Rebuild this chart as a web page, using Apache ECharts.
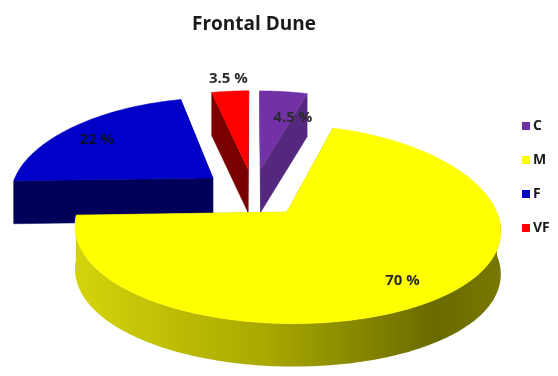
<!DOCTYPE html>
<html>
<head>
<meta charset="utf-8">
<script src="https://cdn.jsdelivr.net/npm/echarts@6/dist/echarts.min.js"></script>
<style>
html,body{margin:0;padding:0;background:#fff;}
#main{width:558px;height:376px;}
</style>
</head>
<body>
<div id="main"></div>
<script>
// ---- data ----
const categories = ['C', 'M', 'F', 'VF'];
const values = [4.5, 70, 22, 3.5];
const labelTexts = ['4.5 %', '70 %', '22 %', '3.5 %'];
const titleText = 'Frontal Dune';

// ---- styles / geometry ----
const topColors  = ['#7232a6', '#ffff00', '#0000c8', '#ff0000'];
const wallColors = ['#55287f', '#b5b500', '#00005a', '#7a0000'];
const legendColors = ['#7030a0', '#ffff00', '#0000cc', '#ff0000'];
const labelColors = ['#2a2a2a', '#2a2a2a', '#0c0c30', '#2a2a2a'];
const labelRadius = [0.674, 0.78, 0.82, 1.25];
const labelShiftX = [16, 0, 0, 2];
const labelShiftY = [3, 3, 4, 5];
const CX = 253.5, CY = 192.5, RX = 203, RY = 93, PX = 0.16, PY = 0.12, DEPTH = 43, EXPLODE = 0.26;

const total = values.reduce((a, b) => a + b, 0);
const starts = [];
{ let acc = 0; values.forEach(v => { starts.push(acc / total * 360); acc += v; }); }

function rad(d) { return d * Math.PI / 180; }
function project(X, Z) {
  return [CX + RX * X / (1 + PX * Z), CY - RY * Z / (1 + PY * Z)];
}

function makeRender(idx) {
  return function (params, api) {
    const v = api.value(0);
    const a1 = starts[idx];
    const a2 = a1 + v / total * 360;
    const am = (a1 + a2) / 2;
    const ex = EXPLODE * Math.sin(rad(am));
    const ez = EXPLODE * Math.cos(rad(am));
    const apex = project(ex, ez);
    function pt(deg, r) {
      r = r == null ? 1 : r;
      return project(ex + r * Math.sin(rad(deg)), ez + r * Math.cos(rad(deg)));
    }
    function arc(d1, d2) {
      const pts = [];
      const n = Math.max(2, Math.ceil(d2 - d1));
      for (let i = 0; i <= n; i++) pts.push(pt(d1 + (d2 - d1) * i / n));
      return pts;
    }
    const children = [];
    const back = [], front = [];
    [[a1, Math.sin(rad(a1))], [a2, -Math.sin(rad(a2))]].forEach(([ang, nz]) => {
      const p = pt(ang);
      const poly = [apex, p, [p[0], p[1] + DEPTH], [apex[0], apex[1] + DEPTH]];
      const el = { type: 'polygon', shape: { points: poly }, style: { fill: wallColors[idx], stroke: wallColors[idx], lineWidth: 0.5 } };
      if (nz < -1e-6) front.push(el); else back.push(el);
    });
    back.forEach(e => children.push(e));
    const f1 = Math.max(a1, 90), f2 = Math.min(a2, 270);
    if (f2 > f1) {
      const top = arc(f1, f2);
      const bot = top.map(p => [p[0], p[1] + DEPTH]).reverse();
      const xs = top.map(p => p[0]);
      const minX = Math.min.apply(null, xs), maxX = Math.max.apply(null, xs);
      let fill = wallColors[idx];
      if (idx === 1) {
        fill = new echarts.graphic.LinearGradient(minX, 0, maxX, 0, [
          { offset: 0, color: '#d4d40c' },
          { offset: 0.45, color: '#a8a800' },
          { offset: 0.85, color: '#6a6a00' },
          { offset: 1, color: '#787800' }
        ], true);
      }
      children.push({ type: 'polygon', shape: { points: top.concat(bot) }, style: { fill: fill } });
    }
    front.forEach(e => children.push(e));
    const topPts = [apex].concat(arc(a1, a2));
    children.push({ type: 'polygon', shape: { points: topPts }, style: { fill: topColors[idx], stroke: topColors[idx], lineWidth: 0.5 } });
    const lp = pt(am, labelRadius[idx]);
    children.push({
      type: 'text', z2: 10,
      style: {
        text: labelTexts[idx], x: lp[0] + labelShiftX[idx], y: lp[1] + labelShiftY[idx],
        align: 'center', verticalAlign: 'middle',
        font: 'bold 15px "Open Sans", sans-serif', fill: labelColors[idx]
      }
    });
    return { type: 'group', children: children };
  };
}

const series = categories.map((name, i) => ({
  type: 'custom',
  name: name,
  coordinateSystem: 'none',
  z: name === 'M' ? 3 : 2,
  itemStyle: { color: legendColors[i] },
  renderItem: makeRender(i),
  data: [[values[i]]],
  silent: true
}));

const chart = echarts.init(document.getElementById('main'), null, { renderer: 'canvas' });
chart.setOption({
  animation: false,
  backgroundColor: '#ffffff',
  title: {
    text: titleText, left: 249, top: 10, textAlign: 'center',
    textStyle: { fontFamily: 'Open Sans', fontWeight: 'bold', fontSize: 19, color: '#1a1a1a' }
  },
  legend: {
    data: categories,
    orient: 'vertical', left: 517, top: 114,
    icon: 'rect', itemWidth: 8, itemHeight: 8, itemGap: 20,
    textStyle: { fontFamily: 'Open Sans', fontWeight: 'bold', fontSize: 14, color: '#1a1a1a', padding: [0, 0, 0, -2] },
    selectedMode: false
  },
  series: series
});
</script>
</body>
</html>
